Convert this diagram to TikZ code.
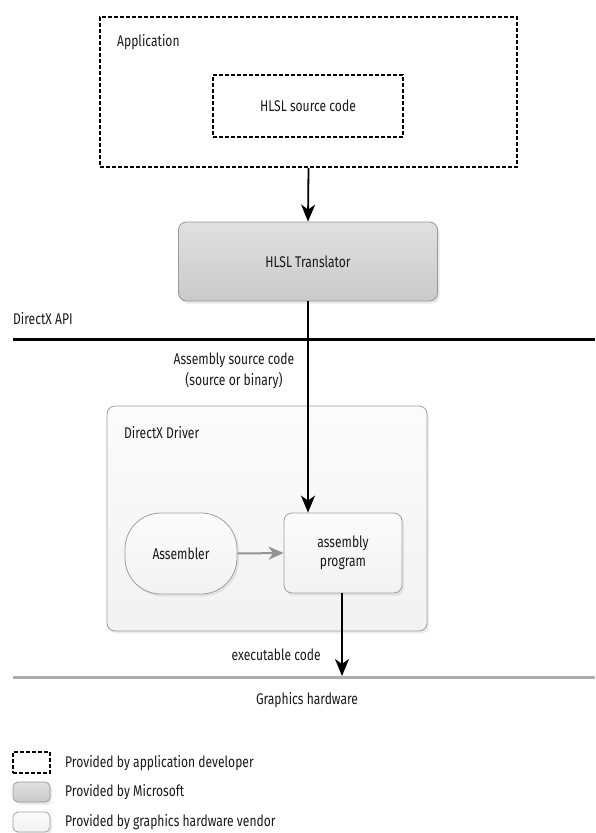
\documentclass[tikz,border=0pt]{standalone}
\usepackage{fontspec}
\setmainfont{Fira Sans}[FakeStretch=0.78]
\usetikzlibrary{arrows.meta,shadows}
\definecolor{txt}{HTML}{1A1A1A}
\tikzset{
  lbl/.style={text=txt, font=\fontsize{15.5}{18}\selectfont, inner sep=0pt},
  devbox/.style={draw=black, line width=2pt, dash pattern=on 4pt off 2pt, inner sep=0pt},
  msbox/.style={draw=gray!80, line width=0.8pt, rounded corners=8pt, top color=gray!24, bottom color=gray!42,
     drop shadow={opacity=0.18, shadow xshift=2pt, shadow yshift=-2.5pt}, inner sep=0pt},
  vendorbox/.style={draw=gray!75, line width=0.8pt, rounded corners=8pt, top color=gray!3, bottom color=gray!10,
     drop shadow={opacity=0.15, shadow xshift=2pt, shadow yshift=-2.5pt}, inner sep=0pt},
  flow/.style={draw=black, line width=1.8pt, -{Stealth[length=17pt,width=14pt,inset=5pt]}},
  grayflow/.style={draw=gray!85, line width=2pt, -{Stealth[length=15pt,width=13pt,inset=4.5pt]}},
  api/.style={draw=black, line width=3pt},
  hw/.style={draw=gray!65, line width=3pt}
}
\begin{document}
\begin{tikzpicture}[x=1pt,y=-1pt]
\useasboundingbox (0,0) rectangle (595,833);

% Application
\node[devbox, minimum width=417pt, minimum height=150pt] (app) at (308.5,92) {};
\node[lbl, anchor=west] (applbl) at (117,42) {Application};
\node[devbox, minimum width=190pt, minimum height=62pt, lbl] (src) at (308,106) {HLSL source code};

% Translator
\node[msbox, minimum width=259pt, minimum height=79pt, lbl] (trans) at (308,261.5) {HLSL Translator};

% DirectX API line
\coordinate (apiL) at (13,339);
\coordinate (apiR) at (595,339);
\draw[api] (apiL) -- (apiR);
\node[lbl, anchor=west] (apilbl) at (13,319) {DirectX API};

% Driver
\node[vendorbox, minimum width=320pt, minimum height=225pt] (drv) at (267,518.5) {};
\node[lbl, anchor=west] (drvlbl) at (124,433) {DirectX Driver};
\node[vendorbox, rounded corners=36pt, minimum width=112pt, minimum height=81pt, lbl] (asm) at (181,553.5) {Assembler};
\node[vendorbox, minimum width=118pt, minimum height=80pt, lbl, align=center] (prog) at (343,553) {assembly\\[1pt]program};

\node[lbl, align=center] (asmsrc) at (234,371) {Assembly source code\\[3pt](source or binary)};

% Graphics hardware line
\coordinate (hwL) at (13,677);
\coordinate (hwR) at (595,677);
\draw[hw] (hwL) -- (hwR);
\node[lbl] (hwlbl) at (307,700) {Graphics hardware};
\node[lbl, anchor=east] (exec) at (321,655) {executable code};

% connectors
\draw[flow] (app.south) -- (trans.north);
\draw[flow] (trans.south) -- (trans.south |- prog.north);
\draw[grayflow] (asm.east) -- (prog.west);
\coordinate (exend) at (342,676);
\draw[flow] (prog.south -| exend) -- (exend);

% legend
\node[devbox, minimum width=37pt, minimum height=21pt] (lg1) at (31.5,762.5) {};
\node[msbox, rounded corners=5pt, minimum width=37pt, minimum height=20pt] (lg2) at (31.5,792) {};
\node[vendorbox, rounded corners=5pt, minimum width=37pt, minimum height=20pt] (lg3) at (31.5,822) {};
\node[lbl, anchor=west] (lt1) at (65,763) {Provided by application developer};
\node[lbl, anchor=west] (lt2) at (65,792) {Provided by Microsoft};
\node[lbl, anchor=west] (lt3) at (65,822) {Provided by graphics hardware vendor};
\end{tikzpicture}
\end{document}
